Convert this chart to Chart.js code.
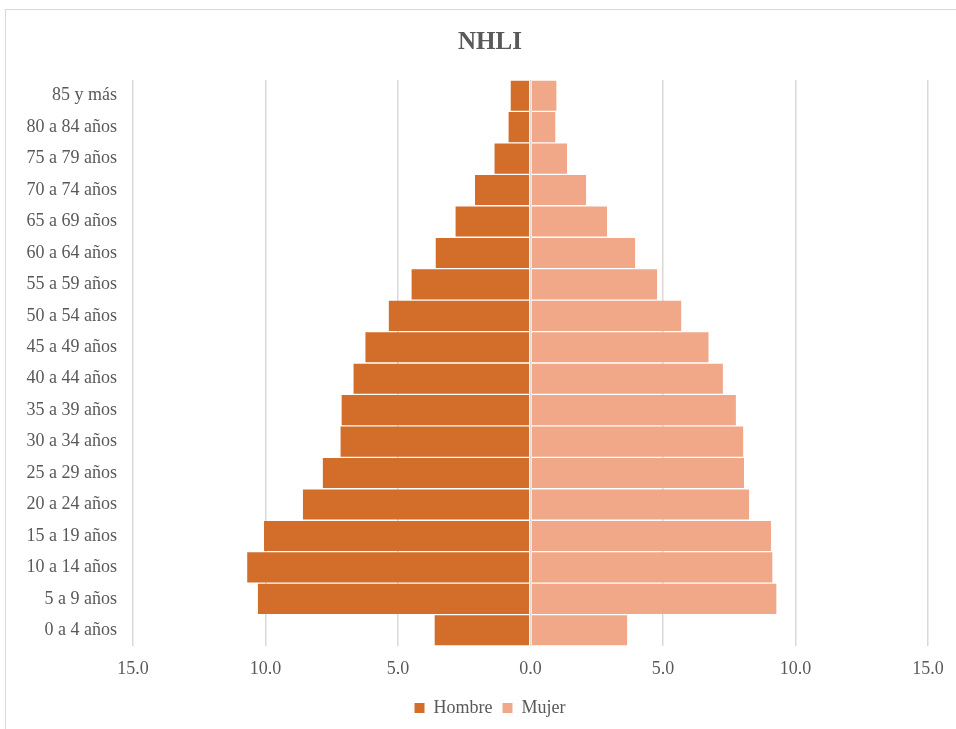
<!DOCTYPE html>
<html>
<head>
<meta charset="utf-8">
<script src="https://cdn.jsdelivr.net/npm/chart.js@4/dist/chart.umd.min.js"></script>
<style>
  html, body { margin: 0; padding: 0; background: #ffffff; overflow: hidden; }
  #wrap { position: relative; width: 956px; height: 729px; overflow: hidden; }
  #frame { position: absolute; left: 5px; top: 9px; width: 990px; height: 730px; border: 1px solid #d9d9d9; box-sizing: border-box; }
  canvas { position: absolute; left: 0; top: 0; }
</style>
</head>
<body>
<div id="wrap">
  <div id="frame"></div>
  <canvas id="chart" width="1000" height="729"></canvas>
</div>
<script>
// Age groups, youngest first
const ageGroups = [
  "0 a 4 años", "5 a 9 años", "10 a 14 años", "15 a 19 años", "20 a 24 años",
  "25 a 29 años", "30 a 34 años", "35 a 39 años", "40 a 44 años", "45 a 49 años",
  "50 a 54 años", "55 a 59 años", "60 a 64 años", "65 a 69 años", "70 a 74 años",
  "75 a 79 años", "80 a 84 años", "85 y más"
];

// Share of population (%) per age group
const hombre = [3.62, 10.29, 10.69, 10.06, 8.59, 7.84, 7.17, 7.13, 6.68, 6.23,
                5.35, 4.49, 3.58, 2.83, 2.09, 1.36, 0.83, 0.75];
const mujer  = [3.65, 9.28, 9.13, 9.08, 8.25, 8.06, 8.03, 7.75, 7.26, 6.72,
                5.69, 4.78, 3.95, 2.89, 2.10, 1.38, 0.94, 0.98];

// Axis ticks shown on both sides of zero
const xTicks = [-15, -10, -5, 0, 5, 10, 15];

const serif = "'Liberation Serif', 'Times New Roman', serif";
const textColor = "#595959";

// Transparent border leaves a thin gap around each bar
const gap = "rgba(255,255,255,0)";

new Chart(document.getElementById("chart"), {
  type: "bar",
  data: {
    labels: ageGroups,
    datasets: [
      {
        label: "Hombre",
        data: hombre.map(v => -v),
        backgroundColor: "#d36d2a",
        borderColor: gap,
        borderWidth: { top: 1, bottom: 1, left: 0, right: 1 },
        borderSkipped: false
      },
      {
        label: "Mujer",
        data: mujer,
        backgroundColor: "#f0a889",
        borderColor: gap,
        borderWidth: { top: 1, bottom: 1, left: 1, right: 0 },
        borderSkipped: false
      }
    ]
  },
  options: {
    indexAxis: "y",
    responsive: false,
    animation: false,
    layout: { padding: { left: 20, right: 40, top: 10, bottom: 2 } },
    datasets: { bar: { categoryPercentage: 1.0, barPercentage: 1.0 } },
    scales: {
      x: {
        stacked: true,
        min: -15,
        max: 15,
        afterBuildTicks: s => { s.ticks = xTicks.map(v => ({ value: v })); },
        afterFit: s => { s.height = 43; },
        grid: { color: "#d9d9d9", lineWidth: 1.5, drawTicks: false },
        border: { display: false },
        ticks: {
          padding: 12,
          color: textColor,
          font: { family: serif, size: 18 },
          callback: v => Math.abs(v).toFixed(1)
        }
      },
      y: {
        stacked: true,
        reverse: true,
        afterFit: s => { s.width = 113; },
        grid: { display: false, drawTicks: false },
        border: { display: false },
        ticks: {
          padding: 16,
          color: textColor,
          font: { family: serif, size: 18 }
        }
      },
      // empty right-hand margin axis
      yRight: {
        type: "linear",
        position: "right",
        afterFit: s => { s.width = 32; },
        grid: { display: false, drawTicks: false },
        border: { display: false },
        ticks: { display: false }
      }
    },
    plugins: {
      title: {
        display: true,
        text: "NHLI",
        color: textColor,
        font: { family: serif, size: 25, weight: "bold" },
        padding: { top: 18, bottom: 22 }
      },
      legend: {
        position: "bottom",
        labels: {
          boxWidth: 10,
          boxHeight: 10,
          padding: 10,
          color: textColor,
          font: { family: serif, size: 18 }
        }
      },
      tooltip: { enabled: false }
    }
  }
});
</script>
</body>
</html>
